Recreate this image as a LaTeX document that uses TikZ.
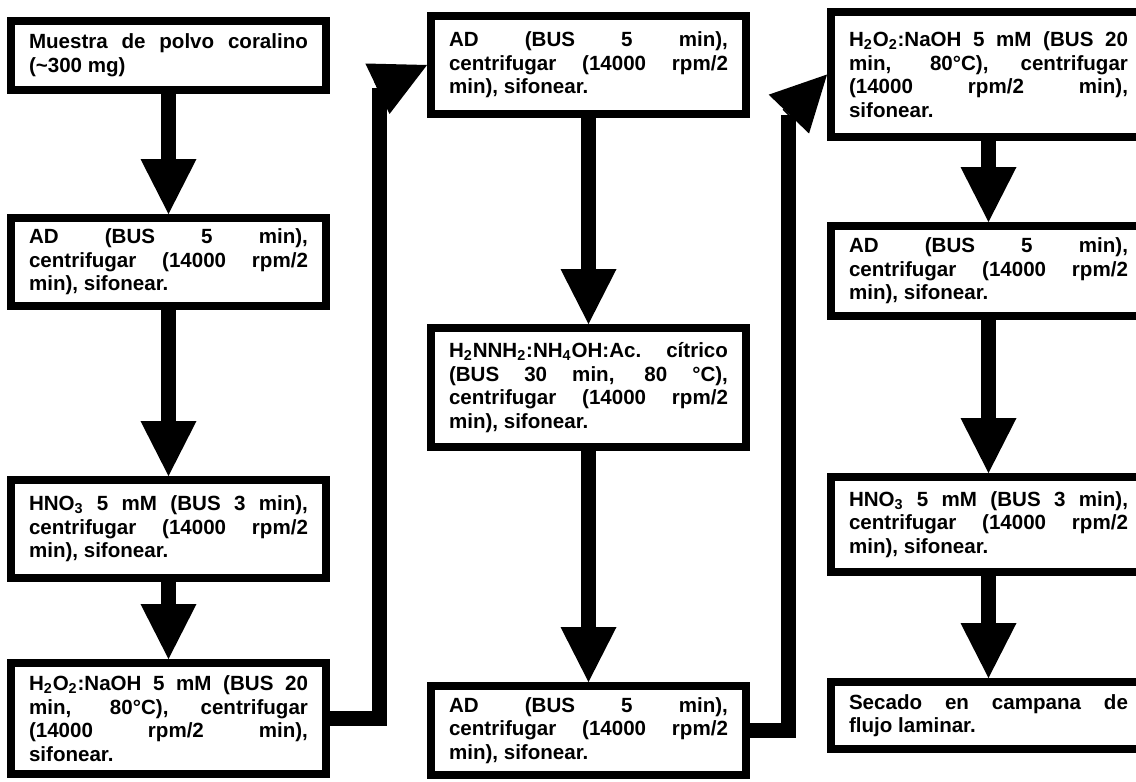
\documentclass[tikz,border=0pt]{standalone}
\usepackage{fontspec}
\setmainfont{Liberation Sans}
\usetikzlibrary{arrows.meta}
\setlength{\parindent}{0pt}
\tolerance=10000
\hbadness=10000

\tikzset{
  box/.style={draw, line width=0.16cm, minimum width=6.3cm, text width=5.58cm,
    inner xsep=0.36cm, inner ysep=0.1cm, align=justify,
    font=\bfseries\fontsize{11.7pt}{13.4pt}\selectfont},
  flow/.style={line width=0.3cm, line join=miter,
    -{Triangle[length=1.1cm, width=1.12cm, line width=0pt]}},
  bar/.style={line width=0.3cm, line join=miter}
}

\begin{document}
\begin{tikzpicture}[x=0.02cm, y=-0.02cm]
  \useasboundingbox (0, 0) rectangle (1136, 781);

  \node[box, minimum height=1.38cm] (a1) at (168.5, 55.5)
    {Muestra de polvo coralino\linebreak (\textasciitilde300 mg)};
  \node[box, minimum height=1.76cm] (a2) at (168.5, 262)
    {AD (BUS 5 min),\linebreak centrifugar (14000 rpm/2\linebreak min), sifonear.};
  \node[box, minimum height=1.96cm] (a3) at (168.5, 529)
    {HNO\textsubscript{3} 5 mM (BUS 3 min),\linebreak centrifugar (14000 rpm/2\linebreak min), sifonear.};
  \node[box, minimum height=2.22cm] (a4) at (168.5, 718.5)
    {H\textsubscript{2}O\textsubscript{2}:NaOH 5 mM (BUS 20\linebreak min, 80°C), centrifugar\linebreak (14000 rpm/2 min),\linebreak sifonear.};
  \draw[flow] (a1) -- (a2);
  \draw[flow] (a2) -- (a3);
  \draw[flow] (a3) -- (a4);

  \node[box, minimum height=1.96cm] (b1) at (588.5, 65)
    {AD (BUS 5 min),\linebreak centrifugar (14000 rpm/2\linebreak min), sifonear.};
  \node[box, minimum height=2.38cm] (b2) at (588.5, 387.5)
    {H\textsubscript{2}NNH\textsubscript{2}:NH\textsubscript{4}OH:Ac. cítrico\linebreak (BUS 30 min, 80 °C),\linebreak centrifugar (14000 rpm/2\linebreak min), sifonear.};
  \node[box, minimum height=1.78cm] (b3) at (588.5, 730.5)
    {AD (BUS 5 min),\linebreak centrifugar (14000 rpm/2\linebreak min), sifonear.};
  \draw[flow] (b1) -- (b2);
  \draw[flow] (b2) -- (b3);

  \coordinate (k1) at (379, 88);
  \draw[bar] (a4.east) -| (k1);
  \draw[flow] (k1) -- (b1.west);

  \node[box, minimum height=2.5cm] (c1) at (988.5, 74.5)
    {H\textsubscript{2}O\textsubscript{2}:NaOH 5 mM (BUS 20\linebreak min, 80°C), centrifugar\linebreak (14000 rpm/2 min),\linebreak sifonear.};
  \node[box, minimum height=1.8cm] (c2) at (988.5, 271)
    {AD (BUS 5 min),\linebreak centrifugar (14000 rpm/2\linebreak min), sifonear.};
  \node[box, minimum height=1.9cm] (c3) at (988.5, 524.5)
    {HNO\textsubscript{3} 5 mM (BUS 3 min),\linebreak centrifugar (14000 rpm/2\linebreak min), sifonear.};
  \node[box, minimum height=1.34cm] (c4) at (988.5, 715.5)
    {Secado en campana de\linebreak flujo laminar.};
  \draw[flow] (c1) -- (c2);
  \draw[flow] (c2) -- (c3);
  \draw[flow] (c3) -- (c4);

  \coordinate (k2) at (788, 115);
  \draw[bar] (b3.east) -| (k2);
  \draw[flow] (k2) -- (c1.west);
\end{tikzpicture}
\end{document}
